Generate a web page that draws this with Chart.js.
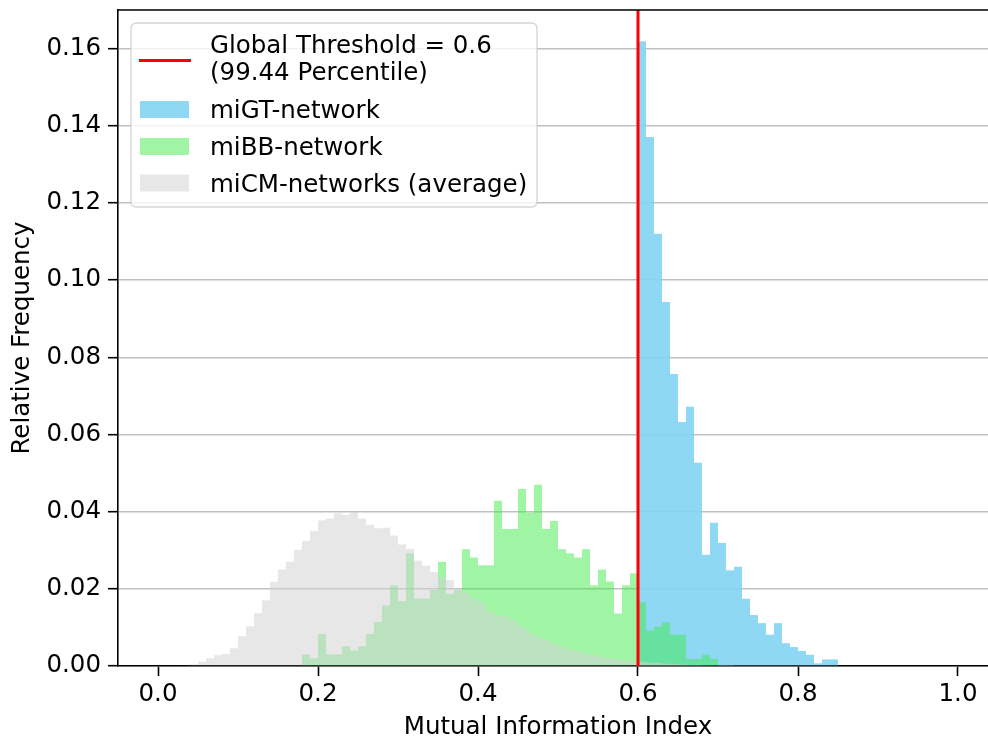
<!DOCTYPE html>
<html>
<head>
<meta charset="utf-8">
<script src="https://cdn.jsdelivr.net/npm/chart.js@4"></script>
<style>
  html, body { margin: 0; padding: 0; background: #fff; overflow: hidden; }
  #wrap { width: 988px; height: 738px; overflow: hidden; }
</style>
</head>
<body>
<div id="wrap"><canvas id="chart" width="1000" height="738"></canvas></div>
<script>
// histogram bins are 0.01 wide, each series starts at its first non-empty bin
const binWidth = 0.01;

const cmStart = 0.03;   // miCM-networks (average)
const cmFreq = [
  0.0002, 0.0004, 0.0011, 0.0020, 0.0028, 0.0031, 0.0046, 0.0077, 0.0103, 0.0137,
  0.0170, 0.0218, 0.0250, 0.0270, 0.0301, 0.0324, 0.0350, 0.0377, 0.0382, 0.0396,
  0.0392, 0.0399, 0.0382, 0.0366, 0.0357, 0.0358, 0.0338, 0.0315, 0.0303, 0.0273,
  0.0260, 0.0244, 0.0230, 0.0223, 0.0199, 0.0190, 0.0176, 0.0165, 0.0142, 0.0129,
  0.0128, 0.0118, 0.0103, 0.0086, 0.0077, 0.0068, 0.0058, 0.0052, 0.0043, 0.0038,
  0.0033, 0.0028, 0.0024, 0.0021, 0.0017, 0.0015, 0.0012, 0.0011, 0.0009, 0.0008,
  0.0006, 0.0005, 0.0004, 0.0003, 0.0003, 0.0002, 0.0002, 0.0001, 0.0001
];

const bbStart = 0.18;   // miBB-network
const bbFreq = [
  0.0030, 0.0020, 0.0083, 0.0030, 0.0030, 0.0051, 0.0040, 0.0051, 0.0083, 0.0114,
  0.0157, 0.0209, 0.0168, 0.0292, 0.0175, 0.0175, 0.0197, 0.0270, 0.0187, 0.0197,
  0.0303, 0.0281, 0.0261, 0.0261, 0.0428, 0.0355, 0.0355, 0.0459, 0.0398, 0.0470,
  0.0355, 0.0376, 0.0303, 0.0292, 0.0281, 0.0303, 0.0209, 0.0250, 0.0219, 0.0136,
  0.0209, 0.0240, 0.0165, 0.0092, 0.0102, 0.0113, 0.0081, 0.0081, 0.0018, 0.0018,
  0.0029, 0.0018
];

const gtStart = 0.60;   // miGT-network
const gtFreq = [
  0.1619, 0.1371, 0.1120, 0.0943, 0.0757, 0.0632, 0.0672, 0.0527, 0.0288, 0.0371,
  0.0319, 0.0248, 0.0257, 0.0174, 0.0132, 0.0111, 0.0081, 0.0111, 0.0059, 0.0049,
  0.0039, 0.0029, 0.0007, 0.0017, 0.0017
];

const threshold = 0.6;
const thresholdLabel = ["Global Threshold = 0.6", "(99.44 Percentile)"];
const seriesNames = ["miGT-network", "miBB-network", "miCM-networks (average)"];

const xMin = -0.05, xMax = 1.05;
const yMax = 0.17;
const xTicks = [0.0, 0.2, 0.4, 0.6, 0.8, 1.0];
const yTicks = [0.00, 0.02, 0.04, 0.06, 0.08, 0.10, 0.12, 0.14, 0.16];

const blue = 'rgba(130,212,242,0.9)';
const green = 'rgba(65,235,75,0.5)';
const grey = 'rgba(211,211,211,0.55)';

const fontSize = 24.5;

function toBins(start, freq) {
  return freq.map((v, i) => ({ x: +(start + (i + 0.5) * binWidth).toFixed(4), y: v }));
}

Chart.defaults.font.family = "'DejaVu Sans', sans-serif";
Chart.defaults.font.size = fontSize;
Chart.defaults.color = '#000';

// top/right spine + legend box (matplotlib style, upper left)
const frameAndLegend = {
  id: 'frameAndLegend',
  afterDraw(chart) {
    const { ctx, chartArea: a } = chart;
    ctx.save();
    ctx.strokeStyle = '#000';
    ctx.lineWidth = 1.6;
    ctx.beginPath();
    ctx.moveTo(a.left, a.top);
    ctx.lineTo(a.right, a.top);
    ctx.lineTo(a.right, a.bottom);
    ctx.stroke();

    ctx.beginPath();
    ctx.roundRect(131, 23, 406, 184, 5);
    ctx.fillStyle = 'rgba(255,255,255,0.8)';
    ctx.fill();
    ctx.strokeStyle = 'rgba(204,204,204,0.8)';
    ctx.lineWidth = 1.4;
    ctx.stroke();

    ctx.font = fontSize + "px 'DejaVu Sans'";
    ctx.fillStyle = '#000';
    ctx.textBaseline = 'alphabetic';
    ctx.textAlign = 'left';

    // red line entry
    ctx.strokeStyle = '#ff0000';
    ctx.lineWidth = 3;
    ctx.beginPath();
    ctx.moveTo(139, 60.5);
    ctx.lineTo(191, 60.5);
    ctx.stroke();
    ctx.fillText(thresholdLabel[0], 210, 52.5);
    ctx.fillText(thresholdLabel[1], 210, 80);

    const patches = [blue, green, grey];
    const base = [118, 155, 191.5];
    patches.forEach((c, i) => {
      ctx.fillStyle = c;
      ctx.fillRect(140, base[i] - 17, 49, 17);
      ctx.fillStyle = '#000';
      ctx.fillText(seriesNames[i], 210, base[i]);
    });
    ctx.restore();
  }
};

new Chart(document.getElementById('chart'), {
  type: 'bar',
  data: {
    datasets: [
      {
        type: 'line',
        label: thresholdLabel.join(' '),
        data: [{ x: threshold, y: 0 }, { x: threshold, y: yMax }],
        borderColor: '#ff0000',
        borderWidth: 3,
        pointRadius: 0,
        order: 0
      },
      { label: seriesNames[2], data: toBins(cmStart, cmFreq), backgroundColor: grey, order: 1 },
      { label: seriesNames[1], data: toBins(bbStart, bbFreq), backgroundColor: green, order: 2 },
      { label: seriesNames[0], data: toBins(gtStart, gtFreq), backgroundColor: blue, order: 3 }
    ]
  },
  options: {
    responsive: false,
    animation: false,
    devicePixelRatio: 1,
    layout: { padding: { top: 10, right: 2, left: 0, bottom: 0 } },
    datasets: {
      bar: {
        barPercentage: 1,
        categoryPercentage: 1,
        grouped: false,
        borderWidth: 0,
        inflateAmount: 0
      }
    },
    plugins: {
      legend: { display: false },
      tooltip: { enabled: false }
    },
    scales: {
      x: {
        type: 'linear',
        min: xMin,
        max: xMax,
        offset: false,
        afterBuildTicks: s => { s.ticks = xTicks.map(v => ({ value: v })); },
        afterFit: s => { s.height = 72; s.paddingLeft = 0; s.paddingRight = 0; },
        ticks: { callback: v => v.toFixed(1), padding: 4, maxRotation: 0, autoSkip: false },
        grid: {
          offset: false,
          drawOnChartArea: false,
          drawTicks: true,
          tickLength: 10,
          tickColor: '#000',
          tickWidth: 1.6
        },
        border: { display: true, color: '#000', width: 1.6 },
        title: {
          display: true,
          text: 'Mutual Information Index',
          font: { size: fontSize, lineHeight: 0.85 },
          padding: { top: 0, bottom: 0 }
        }
      },
      y: {
        min: 0,
        max: yMax,
        afterBuildTicks: s => { s.ticks = yTicks.map(v => ({ value: v })); },
        afterFit: s => { s.width = 118; s.paddingTop = 0; s.paddingBottom = 0; },
        ticks: { callback: v => v.toFixed(2), padding: 7, autoSkip: false },
        grid: {
          color: 'rgba(176,176,176,0.8)',
          lineWidth: 1.4,
          drawTicks: true,
          tickLength: 10,
          tickColor: '#000',
          tickWidth: 1.6
        },
        border: { display: true, color: '#000', width: 1.6 },
        title: {
          display: true,
          text: 'Relative Frequency',
          font: { size: fontSize, lineHeight: 0.85 },
          padding: { top: 12, bottom: 0 }
        }
      }
    }
  },
  plugins: [frameAndLegend]
});
</script>
</body>
</html>
